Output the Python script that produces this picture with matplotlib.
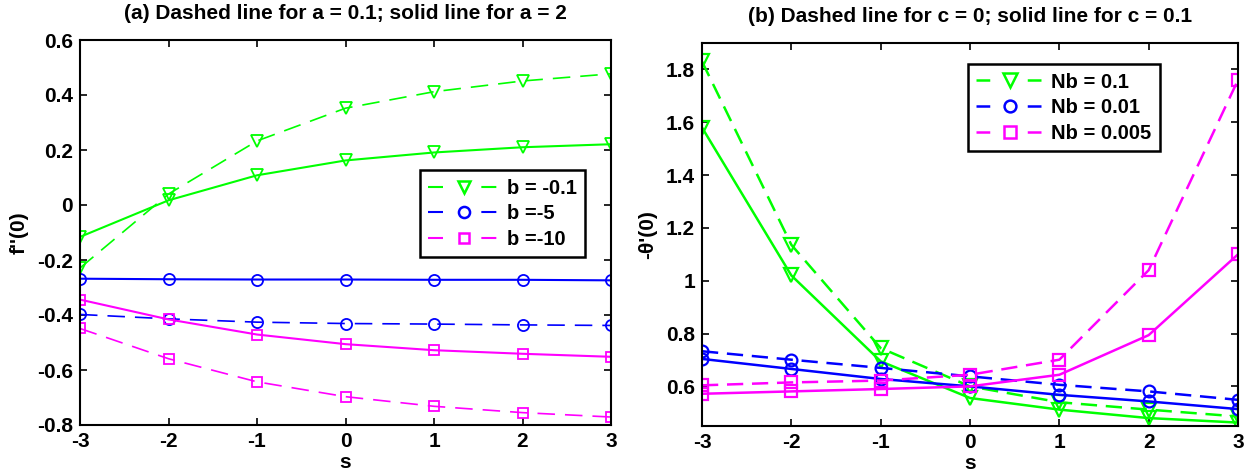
import matplotlib
matplotlib.use('Agg')
import matplotlib.pyplot as plt
from matplotlib.lines import Line2D

plt.rcParams['font.family'] = ['Liberation Sans', 'DejaVu Sans']
plt.rcParams['font.weight'] = 'bold'

s = [-3, -2, -1, 0, 1, 2, 3]

# panel (a): f''(0); dashed a = 0.1, solid a = 2
fa_b01_a01 = [-0.229, 0.040, 0.233, 0.352, 0.412, 0.451, 0.477]
fa_b01_a2 = [-0.116, 0.017, 0.108, 0.162, 0.191, 0.210, 0.221]
fa_b5_a01 = [-0.398, -0.414, -0.426, -0.431, -0.433, -0.436, -0.438]
fa_b5_a2 = [-0.268, -0.270, -0.271, -0.271, -0.272, -0.272, -0.274]
fa_b10_a01 = [-0.449, -0.559, -0.643, -0.697, -0.732, -0.755, -0.771]
fa_b10_a2 = [-0.344, -0.416, -0.471, -0.506, -0.528, -0.541, -0.552]
labels_a = ['b = -0.1', 'b =-5', 'b =-10']

# panel (b): -theta'(0); dashed c = 0, solid c = 0.1
th_nb01_c0 = [1.83, 1.136, 0.745, 0.600, 0.540, 0.512, 0.486]
th_nb01_c01 = [1.58, 1.020, 0.695, 0.556, 0.512, 0.480, 0.463]
th_nb001_c0 = [0.733, 0.701, 0.670, 0.638, 0.606, 0.581, 0.549]
th_nb001_c01 = [0.704, 0.666, 0.628, 0.600, 0.568, 0.543, 0.514]
th_nb0005_c0 = [0.604, 0.615, 0.622, 0.644, 0.701, 1.040, 1.760]
th_nb0005_c01 = [0.572, 0.581, 0.590, 0.600, 0.644, 0.794, 1.100]
labels_b = ['Nb = 0.1', 'Nb = 0.01', 'Nb = 0.005']

yt_a = [-0.8, -0.6, -0.4, -0.2, 0, 0.2, 0.4, 0.6]
yt_a_lbl = ['-0.8', '-0.6', '-0.4', '-0.2', '0', '0.2', '0.4', '0.6']
yt_b = [0.6, 0.8, 1.0, 1.2, 1.4, 1.6, 1.8]
yt_b_lbl = ['0.6', '0.8', '1', '1.2', '1.4', '1.6', '1.8']

G, B, M = (0, 1, 0), (0, 0, 1), (1, 0, 1)
FS = 15

fig = plt.figure(figsize=(12.52, 4.76), dpi=100)
axa = fig.add_axes([80/1252, 1-425/476, 531/1252, 385/476])
axb = fig.add_axes([702/1252, 1-426/476, 536/1252, 383/476])

def style(ax):
    for sp in ax.spines.values():
        sp.set_linewidth(1.5)
    ax.tick_params(direction='in', top=True, right=True, length=5, width=1.2,
                   labelsize=FS, pad=5)
    for lab in ax.get_xticklabels() + ax.get_yticklabels():
        lab.set_fontweight('bold')

# ---- panel a
lw_a = 1.2
da = (10.5, 6)
series_a = [(fa_b01_a01, fa_b01_a2, G, 'v', 8.5),
            (fa_b5_a01, fa_b5_a2, B, 'o', 8),
            (fa_b10_a01, fa_b10_a2, M, 's', 7)]
for dsh, sol, c, mk, ms in series_a:
    axa.plot(s, dsh, color=c, lw=lw_a, dashes=da, marker=mk, ms=ms,
             mfc='none', mec=c, mew=1.3)
    axa.plot(s, sol, color=c, lw=lw_a + 0.3, ls='-', marker=mk, ms=ms,
             mfc='none', mec=c, mew=1.3)
axa.set_xlim(-3, 3)
axa.set_ylim(-0.8, 0.6)
axa.set_xticks(s)
axa.set_xticklabels([str(v) for v in s])
axa.set_yticks(yt_a)
axa.set_yticklabels(yt_a_lbl)
style(axa)
axa.set_title('(a) Dashed line for a = 0.1; solid line for a = 2',
              fontsize=FS, fontweight='bold', pad=15)
axa.set_xlabel('s', fontsize=FS, fontweight='bold')
axa.set_ylabel("f''(0)", fontsize=FS, fontweight='bold')
axa.xaxis.set_label_coords(0.5, -0.072)
axa.yaxis.set_label_coords(-0.097, 0.5)

hand_a = [Line2D([], [], color=c, lw=1.5, dashes=(7.2, 18.4), marker=mk, ms=ms,
                 mfc='none', mec=c, mew=1.8)
          for _, _, c, mk, ms in series_a]
lga = axa.legend(hand_a, labels_a, loc='upper left', bbox_to_anchor=(0.640, 0.662),
                 fontsize=FS - 0.5, frameon=True, fancybox=False, framealpha=1,
                 edgecolor='black', handlelength=3.5, handletextpad=0.4,
                 labelspacing=0.33, borderpad=0.42, borderaxespad=0)
lga.get_frame().set_linewidth(1.8)
for t in lga.get_texts():
    t.set_fontweight('bold')

# ---- panel b
lw_b = 1.8
db = (6.5, 3.5)
series_b = [(th_nb01_c0, th_nb01_c01, G, 'v', 9.5),
            (th_nb001_c0, th_nb001_c01, B, 'o', 8.5),
            (th_nb0005_c0, th_nb0005_c01, M, 's', 8)]
for dsh, sol, c, mk, ms in series_b:
    axb.plot(s, dsh, color=c, lw=lw_b, dashes=db, marker=mk, ms=ms,
             mfc='none', mec=c, mew=1.6)
    axb.plot(s, sol, color=c, lw=lw_b, ls='-', marker=mk, ms=ms,
             mfc='none', mec=c, mew=1.6)
axb.set_xlim(-3, 3)
axb.set_ylim(0.45, 1.9)
axb.set_xticks(s)
axb.set_xticklabels([str(v) for v in s])
axb.set_yticks(yt_b)
axb.set_yticklabels(yt_b_lbl)
style(axb)
axb.set_title('(b) Dashed line for c = 0; solid line for c = 0.1',
              fontsize=FS, fontweight='bold', pad=15)
axb.set_xlabel('s', fontsize=FS, fontweight='bold')
axb.set_ylabel("-\u03b8'(0)", fontsize=FS, fontweight='bold')
axb.xaxis.set_label_coords(0.5, -0.072)
axb.yaxis.set_label_coords(-0.083, 0.5)

hand_b = [Line2D([], [], color=c, lw=1.8, dashes=(5.5, 15), marker=mk, ms=ms,
                 mfc='none', mec=c, mew=1.8)
          for _, _, c, mk, ms in series_b]
lgb = axb.legend(hand_b, labels_b, loc='upper left', bbox_to_anchor=(0.496, 0.945),
                 fontsize=FS - 0.5, frameon=True, fancybox=False, framealpha=1,
                 edgecolor='black', handlelength=3.3, handletextpad=0.4,
                 labelspacing=0.33, borderpad=0.42, borderaxespad=0)
lgb.get_frame().set_linewidth(1.8)
for t in lgb.get_texts():
    t.set_fontweight('bold')

fig.savefig('out.png', dpi=100)
